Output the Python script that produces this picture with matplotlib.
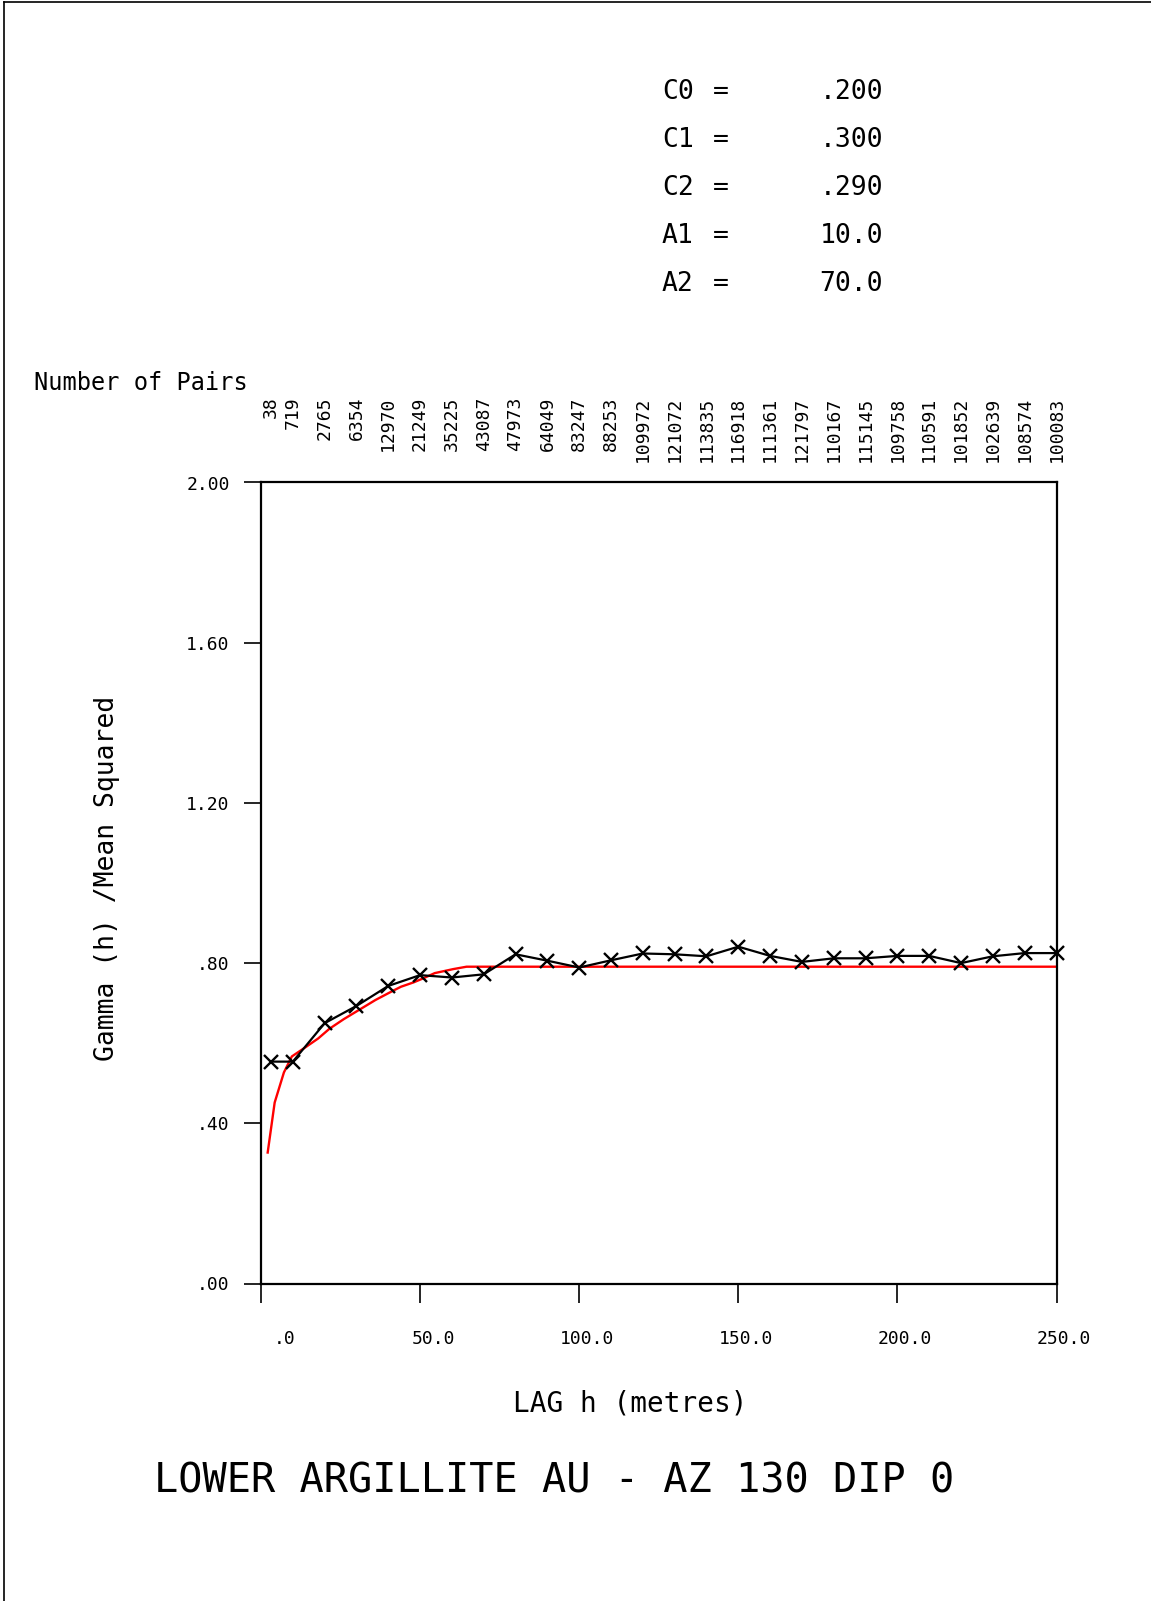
import matplotlib
matplotlib.use("Agg")
import matplotlib.pyplot as plt
from matplotlib.lines import Line2D

lags = [3, 10, 20, 30, 40, 50, 60, 70, 80, 90, 100, 110, 120, 130,
        140, 150, 160, 170, 180, 190, 200, 210, 220, 230, 240, 250]
gamma = [0.554, 0.554, 0.650, 0.693, 0.743, 0.770, 0.764, 0.772, 0.822,
         0.806, 0.789, 0.807, 0.824, 0.822, 0.817, 0.841, 0.818, 0.803,
         0.812, 0.812, 0.818, 0.818, 0.800, 0.817, 0.825, 0.825]
pairs = ["38", "719", "2765", "6354", "12970", "21249", "35225", "43087",
         "47973", "64049", "83247", "88253", "109972", "121072", "113835",
         "116918", "111361", "121797", "110167", "115145", "109758",
         "110591", "101852", "102639", "108574", "100083"]

# fitted model curve (red)
model_h = [2.1, 4.3, 7.2, 9.7, 14, 18, 21.5, 26, 31, 36, 41.5, 44, 48,
           51, 54.6, 60.4, 64.6, 250]
model_g = [0.327, 0.452, 0.527, 0.567, 0.590, 0.612, 0.636, 0.660, 0.684,
           0.708, 0.731, 0.741, 0.752, 0.762, 0.775, 0.785, 0.791, 0.791]

params = [("C0", ".200"), ("C1", ".300"), ("C2", ".290"),
          ("A1", "10.0"), ("A2", "70.0")]

xticks = [0, 50, 100, 150, 200, 250]
xticklabels = [".0", "50.0", "100.0", "150.0", "200.0", "250.0"]
yticks = [0, 0.4, 0.8, 1.2, 1.6, 2.0]
yticklabels = [".00", ".40", ".80", "1.20", "1.60", "2.00"]

plt.rcParams['font.family'] = ['DejaVu Sans Mono']

W, H = 1151, 1601
fig = plt.figure(figsize=(W / 100, H / 100), dpi=100)
ax = fig.add_axes([261 / W, 1 - 1283.5 / H, 795.5 / W, 801 / H])

ax.plot(model_h, model_g, color="red", lw=1.7, zorder=2)
ax.plot(lags, gamma, color="black", lw=1.6, marker="x", ms=10, mew=1.7,
        clip_on=False, zorder=3)

ax.set_xlim(0, 250)
ax.set_ylim(0, 2.0)
for s in ax.spines.values():
    s.set_linewidth(1.6)

ax.set_yticks(yticks)
ax.set_yticklabels(yticklabels, fontsize=13)
ax.set_xticks(xticks)
ax.set_xticklabels([])
ax.tick_params(axis="y", direction="out", length=12.5, width=1.2, pad=10)
ax.tick_params(axis="x", direction="out", length=14, width=1.2)

for x, lab in zip(xticks, xticklabels):
    ax.annotate(lab, xy=(x, 0), xycoords=("data", "axes fraction"),
                xytext=(25, -40), textcoords="offset points",
                ha="right", va="center", fontsize=13)

for x, n in zip(lags, pairs):
    ax.annotate(n, xy=(x, 1), xycoords=("data", "axes fraction"),
                xytext=(0, 62), textcoords="offset points",
                ha="center", va="top", rotation=90, fontsize=13)

fig.text(34 / W, 1 - 383 / H, "Number of Pairs", fontsize=17,
         ha="left", va="center")
fig.text(107 / W, 1 - 878 / H, "Gamma (h) /Mean Squared", fontsize=19,
         rotation=90, ha="center", va="center")
fig.text(630 / W, 1 - 1403 / H, "LAG h (metres)", fontsize=20,
         ha="center", va="center")
fig.text(554 / W, 1 - 1481 / H, "LOWER ARGILLITE AU - AZ 130 DIP 0",
         fontsize=29, ha="center", va="center")

for i, (name, val) in enumerate(params):
    y = 1 - (92 + 48 * i) / H
    fig.text(662 / W, y, name, fontsize=19, ha="left", va="center")
    fig.text(721 / W, y, "=", fontsize=19, ha="center", va="center")
    fig.text(883 / W, y, val, fontsize=19, ha="right", va="center")

# page border (top and left)
fig.add_artist(Line2D([4 / W, 4 / W], [0, 1 - 2 / H], color="black", lw=1.2))
fig.add_artist(Line2D([4 / W, 1], [1 - 2 / H, 1 - 2 / H], color="black", lw=1.2))

fig.savefig("out.png", dpi=100)
